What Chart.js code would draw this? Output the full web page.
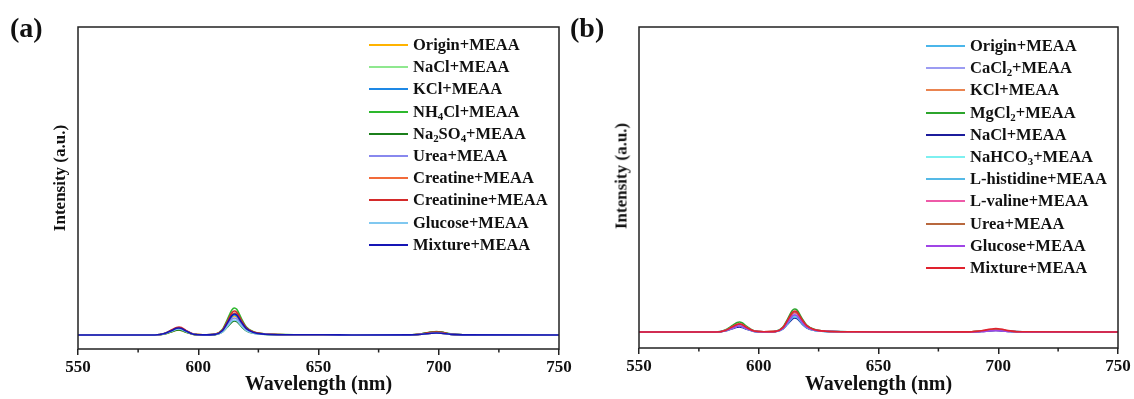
<!DOCTYPE html>
<html>
<head>
<meta charset="utf-8">
<title>Emission spectra with interferents</title>
<script src="https://cdn.jsdelivr.net/npm/chart.js@4.4.0/dist/chart.umd.min.js"></script>
<style>
  body { margin: 0; background: #fff; }
  #wrap { position: relative; width: 1134px; height: 399px; overflow: hidden;
          font-family: "Liberation Serif", "Times New Roman", serif; color: #111; }
  canvas { position: absolute; top: 0; }
  .tag { position: absolute; top: 14px; font-weight: bold; font-size: 28px; line-height: 1; }
  .ytitle { position: absolute; font-weight: bold; font-size: 17px; line-height: 1; white-space: nowrap;
            transform: translate(-50%, -50%) rotate(-90deg); }
  .legend { position: absolute; font-weight: bold; font-size: 16.5px; }
  .legend .row { display: flex; align-items: center; height: 22.2px; white-space: nowrap; }
  .legend .swatch { width: 39px; height: 2px; margin-right: 5px; flex: none; }
  .legend sub { font-size: 0.66em; vertical-align: -0.3em; line-height: 0; }
</style>
</head>
<body>
<div id="wrap">
  <canvas id="chartA" width="580" height="399" style="left:0"></canvas>
  <canvas id="chartB" width="567" height="399" style="left:567px"></canvas>
  <div class="tag" style="left:10px">(a)</div>
  <div class="tag" style="left:570px">(b)</div>
  <div class="ytitle" style="left:59px; top:178px">Intensity (a.u.)</div>
  <div class="ytitle" style="left:621px; top:176px">Intensity (a.u.)</div>
  <div class="legend" id="legendA" style="left:369px; top:34px"></div>
  <div class="legend" id="legendB" style="left:926px; top:35px"></div>
</div>
<script>
// wavelength grid (nm) shared by every spectrum
const wavelength = [550, 582, 586, 589, 591, 592, 593, 595, 598, 602, 607, 610, 612, 614, 615, 616, 618, 620, 623, 628, 640, 652, 665, 688, 693, 697, 699, 701, 705, 710, 750];
const xTicks = [550, 600, 650, 700, 750];
const minorTicks = [575, 625, 675, 725];

// (a) common urine components
const labelsA = ["Origin+MEAA", "NaCl+MEAA", "KCl+MEAA", "NH<sub>4</sub>Cl+MEAA", "Na<sub>2</sub>SO<sub>4</sub>+MEAA",
  "Urea+MEAA", "Creatine+MEAA", "Creatinine+MEAA", "Glucose+MEAA", "Mixture+MEAA"];
const colorsA = ["#ffb300", "#8fe88f", "#1e88e5", "#2db82d", "#1b7f1b", "#8888ee", "#f26b3a", "#d42a2a", "#80c8f0", "#1515b5"];
const aOrigin     = [14, 14, 15.0, 17.3, 18.8, 19.0, 18.6, 16.8, 14.6, 14.1, 14.6, 17.8, 24.5, 31.7, 33.0, 32.1, 25.4, 19.7, 16.3, 14.8, 14.2, 14.3, 14, 14.1, 14.7, 15.7, 16.0, 15.7, 14.6, 14.1, 14];
const aNaCl       = [14, 14, 15.2, 17.9, 19.7, 20.0, 19.5, 17.3, 14.7, 14.1, 14.6, 18.2, 25.6, 33.5, 35.0, 34.0, 26.6, 20.3, 16.5, 14.8, 14.2, 14.3, 14, 14.1, 15.1, 16.6, 17.0, 16.6, 14.9, 14.2, 14];
const aKCl        = [14, 14, 15.2, 17.9, 19.7, 20.0, 19.5, 17.3, 14.7, 14.1, 14.6, 18.0, 25.0, 32.6, 34.0, 33.0, 26.0, 20.0, 16.4, 14.8, 14.2, 14.3, 14, 14.1, 14.9, 16.1, 16.5, 16.1, 14.8, 14.1, 14];
const aNH4Cl      = [14, 14, 15.4, 18.6, 20.7, 21.0, 20.4, 17.9, 14.8, 14.1, 14.8, 19.4, 28.9, 39.1, 41.0, 39.7, 30.2, 22.1, 17.2, 15.1, 14.3, 14.3, 14, 14.1, 15.2, 17.0, 17.5, 17.0, 15.1, 14.2, 14];
const aNa2SO4     = [14, 14, 15.0, 17.3, 18.8, 19.0, 18.6, 16.8, 14.6, 14.1, 14.4, 16.8, 21.7, 27.0, 28.0, 27.3, 22.4, 18.2, 15.7, 14.6, 14.1, 14.3, 14, 14.1, 15.1, 16.6, 17.0, 16.6, 14.9, 14.2, 14];
const aUrea       = [14, 14, 15.4, 18.6, 20.7, 21.0, 20.4, 17.9, 14.8, 14.1, 14.5, 17.4, 23.4, 29.8, 31.0, 30.2, 24.2, 19.1, 16.0, 14.7, 14.2, 14.3, 14, 14.1, 14.7, 15.7, 16.0, 15.7, 14.6, 14.1, 14];
const aCreatine   = [14, 14, 15.4, 18.6, 20.7, 21.0, 20.4, 17.9, 14.8, 14.1, 14.7, 18.4, 26.1, 34.5, 36.0, 34.9, 27.2, 20.6, 16.6, 14.9, 14.2, 14.3, 14, 14.1, 14.9, 16.1, 16.5, 16.1, 14.8, 14.1, 14];
const aCreatinine = [14, 14, 15.6, 19.2, 21.6, 22.0, 21.4, 18.4, 15.0, 14.2, 14.7, 18.8, 27.2, 36.3, 38.0, 36.8, 28.4, 21.2, 16.9, 15.0, 14.2, 14.3, 14, 14.1, 15.1, 16.6, 17.0, 16.6, 14.9, 14.2, 14];
const aGlucose    = [14, 14, 15.2, 17.9, 19.7, 20.0, 19.5, 17.3, 14.7, 14.1, 14.5, 17.0, 22.3, 28.0, 29.0, 28.3, 23.0, 18.5, 15.8, 14.6, 14.2, 14.3, 14, 14.1, 14.7, 15.7, 16.0, 15.7, 14.6, 14.1, 14];
const aMixture    = [14, 14, 15.4, 18.6, 20.7, 21.0, 20.4, 17.9, 14.8, 14.1, 14.6, 18.2, 25.6, 33.5, 35.0, 34.0, 26.6, 20.3, 16.5, 14.8, 14.2, 14.3, 14, 14.1, 14.7, 15.7, 16.0, 15.7, 14.6, 14.1, 14];
const seriesA = [aOrigin, aNaCl, aKCl, aNH4Cl, aNa2SO4, aUrea, aCreatine, aCreatinine, aGlucose, aMixture];

// (b) sweat components
const labelsB = ["Origin+MEAA", "CaCl<sub>2</sub>+MEAA", "KCl+MEAA", "MgCl<sub>2</sub>+MEAA", "NaCl+MEAA", "NaHCO<sub>3</sub>+MEAA",
  "L-histidine+MEAA", "L-valine+MEAA", "Urea+MEAA", "Glucose+MEAA", "Mixture+MEAA"];
const colorsB = ["#4bb6ea", "#9c9cf2", "#ea8450", "#2ca52c", "#1c1c9c", "#7df0f0", "#55b9e6", "#ee5aa8", "#b8683e", "#a045e6", "#e0222e"];
const bOrigin    = [16, 16, 17.4, 20.6, 22.7, 23.0, 22.4, 19.9, 16.8, 16.1, 16.5, 19.4, 25.4, 31.8, 33.0, 32.2, 26.2, 21.1, 18.0, 16.7, 16.2, 16, 16, 16.1, 16.7, 17.7, 18.0, 17.7, 16.6, 16.1, 16];
const bCaCl2     = [16, 16, 17.2, 19.9, 21.7, 22.0, 21.5, 19.3, 16.7, 16.1, 16.5, 19.2, 24.8, 30.9, 32.0, 31.2, 25.6, 20.8, 17.9, 16.6, 16.2, 16, 16, 16.0, 16.5, 17.3, 17.5, 17.3, 16.5, 16.1, 16];
const bKCl       = [16, 16, 17.6, 21.2, 23.6, 24.0, 23.4, 20.4, 17.0, 16.2, 16.6, 20.0, 27.0, 34.6, 36.0, 35.0, 28.0, 22.0, 18.4, 16.8, 16.2, 16, 16, 16.1, 16.9, 18.1, 18.5, 18.1, 16.8, 16.1, 16];
const bMgCl2     = [16, 16, 18.0, 22.5, 25.5, 26.0, 25.2, 21.5, 17.2, 16.2, 16.7, 20.6, 28.7, 37.4, 39.0, 37.9, 29.8, 22.9, 18.8, 16.9, 16.2, 16, 16, 16.1, 16.9, 18.1, 18.5, 18.1, 16.8, 16.1, 16];
const bNaCl      = [16, 16, 17.0, 19.3, 20.8, 21.0, 20.6, 18.8, 16.6, 16.1, 16.4, 18.8, 23.7, 29.0, 30.0, 29.3, 24.4, 20.2, 17.7, 16.6, 16.1, 16, 16, 16.0, 16.5, 17.3, 17.5, 17.3, 16.5, 16.1, 16];
const bNaHCO3    = [16, 16, 17.2, 19.9, 21.7, 22.0, 21.5, 19.3, 16.7, 16.1, 16.5, 19.2, 24.8, 30.9, 32.0, 31.2, 25.6, 20.8, 17.9, 16.6, 16.2, 16, 16, 16.1, 16.7, 17.7, 18.0, 17.7, 16.6, 16.1, 16];
const bHistidine = [16, 16, 17.2, 19.9, 21.7, 22.0, 21.5, 19.3, 16.7, 16.1, 16.5, 19.0, 24.3, 30.0, 31.0, 30.3, 25.0, 20.5, 17.8, 16.6, 16.2, 16, 16, 16.1, 16.7, 17.7, 18.0, 17.7, 16.6, 16.1, 16];
const bValine    = [16, 16, 17.6, 21.2, 23.6, 24.0, 23.4, 20.4, 17.0, 16.2, 16.6, 19.8, 26.5, 33.7, 35.0, 34.1, 27.4, 21.7, 18.3, 16.8, 16.2, 16, 16, 16.1, 16.9, 18.1, 18.5, 18.1, 16.8, 16.1, 16];
const bUrea      = [16, 16, 17.6, 21.2, 23.6, 24.0, 23.4, 20.4, 17.0, 16.2, 16.6, 20.0, 27.0, 34.6, 36.0, 35.0, 28.0, 22.0, 18.4, 16.8, 16.2, 16, 16, 16.1, 16.9, 18.1, 18.5, 18.1, 16.8, 16.1, 16];
const bGlucose   = [16, 16, 17.2, 19.9, 21.7, 22.0, 21.5, 19.3, 16.7, 16.1, 16.5, 19.4, 25.4, 31.8, 33.0, 32.2, 26.2, 21.1, 18.0, 16.7, 16.2, 16, 16, 16.0, 16.5, 17.3, 17.5, 17.3, 16.5, 16.1, 16];
const bMixture   = [16, 16, 17.6, 21.2, 23.6, 24.0, 23.4, 20.4, 17.0, 16.2, 16.6, 20.2, 27.6, 35.5, 37.0, 36.0, 28.6, 22.3, 18.5, 16.8, 16.2, 16, 16, 16.1, 17.2, 19.0, 19.5, 19.0, 17.1, 16.2, 16];
const seriesB = [bOrigin, bCaCl2, bKCl, bMgCl2, bNaCl, bNaHCO3, bHistidine, bValine, bUrea, bGlucose, bMixture];

const serif = "'Liberation Serif', 'Times New Roman', serif";
const ink = "#222";

// box frame plus the short unlabeled ticks on the wavelength axis
const framePlugin = {
  id: "frame",
  afterDraw(chart) {
    const { ctx, chartArea: a } = chart;
    const x = chart.scales.x;
    ctx.save();
    ctx.strokeStyle = ink;
    ctx.lineWidth = 1.5;
    ctx.strokeRect(a.left, a.top, a.right - a.left, a.bottom - a.top);
    ctx.beginPath();
    minorTicks.forEach(v => {
      const px = x.getPixelForValue(v);
      ctx.moveTo(px, a.bottom);
      ctx.lineTo(px, a.bottom + 3.5);
    });
    ctx.stroke();
    ctx.restore();
  }
};

const stripTags = s => s.replace(/<[^>]+>/g, "");

function makeChart(id, labels, colors, series, opts) {
  const n = series.length;
  const datasets = series.map((vals, i) => ({
    label: stripTags(labels[i]),
    data: wavelength.map((w, j) => ({ x: w, y: vals[j] })),
    borderColor: colors[i],
    borderWidth: 1.6,
    pointRadius: 0,
    cubicInterpolationMode: "monotone",
    order: n - i // later entries sit on top
  }));
  return new Chart(document.getElementById(id), {
    type: "line",
    data: { datasets },
    plugins: [framePlugin],
    options: {
      responsive: false,
      animation: false,
      devicePixelRatio: 1,
      layout: { padding: { top: 27, right: opts.padRight, left: 0, bottom: 0 } },
      plugins: { legend: { display: false }, tooltip: { enabled: false } },
      scales: {
        x: {
          type: "linear",
          min: 550, max: 750,
          afterBuildTicks: s => { s.ticks = xTicks.map(v => ({ value: v })); },
          afterFit: s => { s.height = opts.xHeight; },
          border: { display: false },
          grid: { drawOnChartArea: false, drawTicks: true, tickLength: 6, color: ink, lineWidth: 1.5 },
          ticks: { color: "#111", padding: 2, font: { family: serif, size: 17, weight: "bold" } },
          title: { display: true, text: "Wavelength (nm)", color: "#111", padding: { top: 0, bottom: 2 },
                   font: { family: serif, size: 20, weight: "bold" } }
        },
        y: {
          min: 0, max: opts.yMax,
          afterFit: s => { s.width = opts.yWidth; },
          border: { display: false },
          grid: { display: false },
          ticks: { display: false }
        }
      }
    }
  });
}

function buildLegend(id, labels, colors) {
  const el = document.getElementById(id);
  el.innerHTML = labels.map((t, i) =>
    `<div class="row"><span class="swatch" style="background:${colors[i]}"></span><span>${t}</span></div>`
  ).join("");
}

makeChart("chartA", labelsA, colorsA, seriesA, { padRight: 21, xHeight: 50, yWidth: 78, yMax: 322 });
makeChart("chartB", labelsB, colorsB, seriesB, { padRight: 16, xHeight: 51, yWidth: 72, yMax: 321 });
buildLegend("legendA", labelsA, colorsA);
buildLegend("legendB", labelsB, colorsB);
</script>
</body>
</html>
